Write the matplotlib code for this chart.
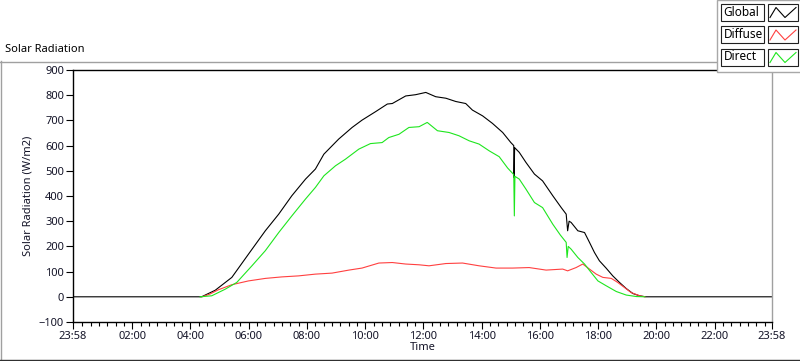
import matplotlib
matplotlib.use("Agg")
import matplotlib.pyplot as plt
from matplotlib.lines import Line2D
from matplotlib.patches import Rectangle
import numpy as np

plt.rcParams['font.family'] = ['Noto Sans', 'DejaVu Sans']

# hours after midnight, values in W/m2
global_hours = [-2/60, 4.38, 4.85, 5.42, 5.99, 6.57, 7.03, 7.48, 7.95, 8.29, 8.58, 9.09, 9.55,
                9.89, 10.36, 10.76, 10.93, 11.39, 11.73, 12.08, 12.42, 12.77, 13.11, 13.45,
                13.68, 14.03, 14.37, 14.72, 15.0, 15.10, 15.11, 15.13, 15.29, 15.52, 15.81,
                16.09, 16.44, 16.73, 16.9, 16.95, 17.0, 17.07, 17.3, 17.53, 17.7, 17.87,
                18.04, 18.27, 18.5, 18.73, 18.96, 19.19, 19.42, 19.63, 23 + 58/60]
global_vals = [0, 0, 26, 77, 169, 262, 328, 401, 467, 507, 566, 626, 672,
               701, 735, 765, 767, 797, 802, 811, 794, 788, 775, 767,
               741, 718, 688, 652, 612, 600, 473, 592, 573, 533, 487,
               460, 401, 354, 328, 262, 300, 295, 262, 255, 216, 176,
               143, 114, 83, 57, 33, 13, 4, 0, 0]

diffuse_hours = [4.4, 4.67, 4.96, 5.42, 5.99, 6.57, 7.14, 7.71, 8.29, 8.86, 9.44, 9.89, 10.47,
                 10.93, 11.39, 11.85, 12.19, 12.77, 13.34, 13.91, 14.49, 15.06, 15.63, 16.21,
                 16.78, 16.95, 17.24, 17.47, 17.7, 17.93, 18.16, 18.45, 18.67, 18.9, 19.13,
                 19.42, 19.6]
diffuse_vals = [0, 11, 28, 48, 63, 73, 79, 83, 90, 94, 106, 114, 134,
                136, 130, 127, 123, 132, 134, 123, 114, 114, 116, 106,
                110, 103, 116, 130, 110, 90, 77, 73, 57, 37, 17,
                4, 0]

direct_hours = [4.33, 4.73, 5.19, 5.59, 6.11, 6.57, 7.03, 7.48, 7.95, 8.29, 8.58, 8.98, 9.32,
                9.78, 10.18, 10.58, 10.81, 11.16, 11.5, 11.85, 12.13, 12.48, 12.88, 13.22,
                13.57, 13.91, 14.26, 14.6, 14.89, 15.1, 15.12, 15.14, 15.29, 15.52, 15.81,
                16.09, 16.44, 16.7, 16.9, 16.93, 16.97, 17.07, 17.3, 17.53, 17.76, 17.99,
                18.27, 18.62, 18.96, 19.31, 19.6]
direct_vals = [0, 4, 30, 57, 123, 183, 255, 321, 388, 434, 480, 520, 546,
               586, 608, 612, 632, 645, 672, 675, 692, 659, 652, 639,
               619, 606, 579, 556, 511, 485, 321, 478, 467, 427, 374,
               354, 288, 245, 216, 156, 200, 189, 156, 130, 96, 63,
               44, 21, 7, 1, 0]

series_names = ['Global', 'Diffuse', 'Direct']
series_colors = ['black', '#ff4040', '#1ee61e']

tick_hours = [-2/60, 2, 4, 6, 8, 10, 12, 14, 16, 18, 20, 22, 23 + 58/60]
tick_labels = ['23:58', '02:00', '04:00', '06:00', '08:00', '10:00', '12:00',
               '14:00', '16:00', '18:00', '20:00', '22:00', '23:58']

txt = '#141428'

fig = plt.figure(figsize=(8, 3.61), dpi=100)
W, H = 800, 361

def fx(px):
    return px / W

def fy(py):
    return 1 - py / H

# outer panel frame
fig.add_artist(Line2D([fx(0.5), fx(0.5)], [fy(61), fy(360)], color='#a0a0a0', lw=1))
fig.add_artist(Line2D([fx(0), fx(800)], [fy(61.5), fy(61.5)], color='#a0a0a0', lw=1))
fig.add_artist(Line2D([fx(0), fx(800)], [fy(359.5), fy(359.5)], color='#303030', lw=1))
fig.text(fx(5), fy(50), 'Solar Radiation', fontsize=8, color='black', va='center', ha='left')

ax = fig.add_axes([fx(73), fy(322), fx(772 - 73), (322 - 70) / H])
ax.plot(global_hours, global_vals, color=series_colors[0], lw=0.8)
ax.plot(diffuse_hours, diffuse_vals, color=series_colors[1], lw=0.8)
ax.plot(direct_hours, direct_vals, color=series_colors[2], lw=0.8)

ax.set_xlim(-2/60, 23 + 58/60)
ax.set_ylim(-100, 900)
ax.set_yticks(np.arange(-100, 901, 100))
ax.set_xticks(tick_hours)
ax.set_xticklabels(tick_labels)
minor = []
for h in range(0, 24, 2):
    for k in range(1, 7):
        minor.append(h + k * 2 / 7)
ax.set_xticks([m for m in minor if m < 23.96], minor=True)

ax.tick_params(axis='both', which='major', labelsize=8, colors='black', labelcolor=txt,
               length=5, width=0.8, pad=1.5)
ax.tick_params(axis='x', which='minor', length=3, width=0.8, color='black')
for sp in ['left', 'bottom', 'top']:
    ax.spines[sp].set_color('black')
    ax.spines[sp].set_linewidth(1)
ax.spines['right'].set_color('#a0a0a0')
ax.spines['right'].set_linewidth(1)

ax.set_ylabel('Solar Radiation (W/m2)', fontsize=8, color=txt, labelpad=4)
ax.set_xlabel('Time', fontsize=8, color=txt, labelpad=0)

# legend panel at top right
fig.add_artist(Rectangle((fx(717), fy(71.5)), fx(90), (71.5) / H, facecolor='white',
                         edgecolor='#a8a8a8', lw=1, zorder=5))
rows = [3.5, 26, 48.5]
for name, col, top in zip(series_names, series_colors, rows):
    fig.add_artist(Rectangle((fx(721), fy(top + 17)), fx(43), 17 / H, facecolor='white',
                             edgecolor='#202020', lw=0.8, zorder=6))
    fig.text(fx(723.5), fy(top + 8.5), name, fontsize=8.5, color='black', va='center',
             ha='left', zorder=7)
    fig.add_artist(Rectangle((fx(768), fy(top + 17)), fx(30), 17 / H, facecolor='white',
                             edgecolor='#202020', lw=0.8, zorder=6))
    zx = [770, 776, 785, 796]
    zy = [top + 14, top + 4, top + 14, top + 4]
    fig.add_artist(Line2D([fx(v) for v in zx], [fy(v) for v in zy], color=col, lw=0.8,
                          zorder=7))

fig.savefig('out.png', dpi=100)
